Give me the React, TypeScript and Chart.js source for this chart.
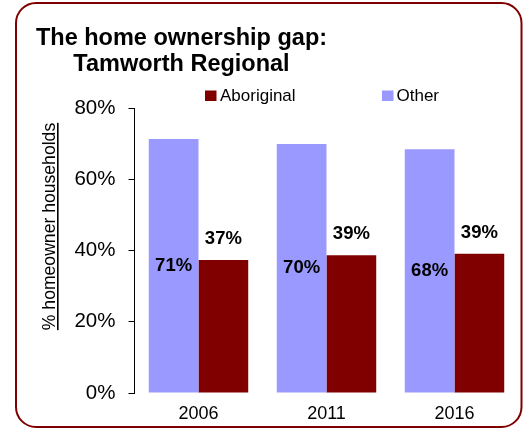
import React, { useEffect, useRef } from "react";
import { Chart, registerables } from "chart.js";

Chart.register(...registerables);

const categories = ["2006", "2011", "2016"];
const otherValues = [71.3, 69.9, 68.4];
const aboriginalValues = [37.3, 38.7, 39.1];
const yTicks = [0, 20, 40, 60, 80];
const titleLines = ["The home ownership gap:", "Tamworth Regional"];
const yTitle = "% homeowner households";
const seriesNames = { other: "Other", aboriginal: "Aboriginal" };

const FONT = "'Liberation Sans', Arial, Helvetica, sans-serif";
const MAROON = "#800000";
const LAVENDER = "#9999FF";

export default function App() {
  const canvasRef = useRef<HTMLCanvasElement | null>(null);

  useEffect(() => {
    document.body.style.margin = "0";
    const canvas = canvasRef.current;
    if (!canvas) return;

    const decor = {
      id: "decor",
      beforeDraw(chart: any) {
        const ctx = chart.ctx;
        ctx.save();
        ctx.fillStyle = "#ffffff";
        ctx.fillRect(0, 0, chart.width, chart.height);
        ctx.restore();
      },
      afterDraw(chart: any) {
        const ctx = chart.ctx;
        ctx.save();
        // border
        ctx.strokeStyle = MAROON;
        ctx.lineWidth = 2;
        ctx.beginPath();
        if (ctx.roundRect) {
          ctx.roundRect(16, 3, 505.5, 424, 20);
        } else {
          ctx.rect(16, 3, 505.5, 424);
        }
        ctx.stroke();

        // title
        ctx.fillStyle = "#000";
        ctx.font = `bold 23.5px ${FONT}`;
        ctx.textAlign = "center";
        ctx.textBaseline = "alphabetic";
        ctx.fillText(titleLines[0], 181.5, 44.5);
        ctx.fillText(titleLines[1], 181.5, 71);

        // legend
        ctx.font = `17px ${FONT}`;
        ctx.textAlign = "left";
        ctx.fillStyle = MAROON;
        ctx.fillRect(205, 90.5, 11.5, 10.5);
        ctx.fillStyle = "#000";
        ctx.fillText(seriesNames.aboriginal, 220, 100.5);
        ctx.fillStyle = LAVENDER;
        ctx.fillRect(382, 90.5, 11.5, 10.5);
        ctx.fillStyle = "#000";
        ctx.fillText(seriesNames.other, 396.5, 100.5);

        // y title with underline
        ctx.translate(55, 226.5);
        ctx.rotate(-Math.PI / 2);
        ctx.font = `17.6px ${FONT}`;
        ctx.textAlign = "center";
        ctx.fillText(yTitle, 0, 0);
        const w = ctx.measureText(yTitle).width;
        ctx.fillRect(-w / 2, 2, w, 1.6);
        ctx.restore();
      },
      afterDatasetsDraw(chart: any) {
        const ctx = chart.ctx;
        ctx.save();
        ctx.fillStyle = "#000";
        ctx.font = `bold 18.5px ${FONT}`;
        ctx.textAlign = "center";
        ctx.textBaseline = "middle";
        const m0 = chart.getDatasetMeta(0);
        m0.data.forEach((bar: any, i: number) => {
          const v = chart.data.datasets[0].data[i] as number;
          ctx.fillText(`${Math.round(v)}%`, bar.x, (bar.y + bar.base) / 2);
        });
        const m1 = chart.getDatasetMeta(1);
        m1.data.forEach((bar: any, i: number) => {
          const v = chart.data.datasets[1].data[i] as number;
          ctx.fillText(`${Math.round(v)}%`, bar.x, bar.y - 21);
        });
        ctx.restore();
      },
    };

    const chart = new Chart(canvas, {
      type: "bar",
      data: {
        labels: categories,
        datasets: [
          {
            label: seriesNames.other,
            data: otherValues,
            backgroundColor: LAVENDER,
            borderWidth: 0,
          },
          {
            label: seriesNames.aboriginal,
            data: aboriginalValues,
            backgroundColor: MAROON,
            borderWidth: 0,
          },
        ],
      },
      options: {
        responsive: false,
        animation: false,
        devicePixelRatio: 1,
        layout: { padding: { left: 0, top: 108, right: 9.5, bottom: 0 } },
        plugins: {
          legend: { display: false },
          title: { display: false },
          tooltip: { enabled: false },
        },
        datasets: {
          bar: { barPercentage: 1, categoryPercentage: 0.777 },
        },
        scales: {
          x: {
            grid: { display: false, drawTicks: false },
            border: { display: false },
            ticks: {
              color: "#000",
              font: { family: FONT, size: 18 },
              padding: 10,
            },
            afterFit: (scale: any) => {
              scale.height = 35;
            },
          },
          y: {
            min: 0,
            max: 80,
            afterBuildTicks: (scale: any) => {
              scale.ticks = yTicks.map((v) => ({ value: v }));
            },
            ticks: {
              color: "#000",
              font: { family: FONT, size: 20.5 },
              padding: 13,
              callback: (v: any) => `${v}%`,
            },
            grid: {
              drawOnChartArea: false,
              tickLength: 6,
              color: "#000",
              lineWidth: 1,
            },
            border: { display: true, color: "#000", width: 1 },
            afterFit: (scale: any) => {
              scale.width = 134.5;
            },
          },
        },
      },
      plugins: [decor],
    });

    return () => chart.destroy();
  }, []);

  return (
    <div style={{ position: "absolute", left: 0, top: 0, width: 528, height: 428 }}>
      <canvas ref={canvasRef} width={528} height={428} />
    </div>
  );
}
